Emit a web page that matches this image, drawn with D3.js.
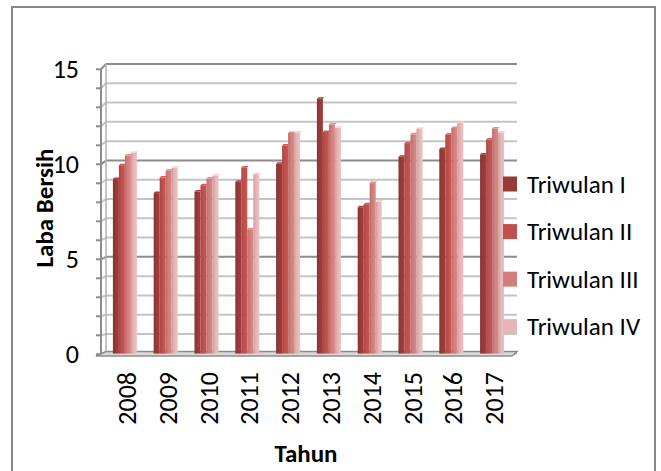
<!DOCTYPE html>
<html>
<head>
<meta charset="utf-8">
<script src="https://cdn.jsdelivr.net/npm/d3@7"></script>
<style>
  html, body { margin: 0; padding: 0; background: #ffffff; }
  svg { display: block; }
  text { font-family: Carlito, Lato, "Open Sans", sans-serif; fill: #000; }
</style>
</head>
<body>
<svg id="chart" width="661" height="471"></svg>
<script>
// Laba bersih per triwulan, 2008–2017
const years = ["2008", "2009", "2010", "2011", "2012", "2013", "2014", "2015", "2016", "2017"];
const seriesNames = ["Triwulan I", "Triwulan II", "Triwulan III", "Triwulan IV"];
const triwulan1 = [9.12, 8.39, 8.47, 8.98, 9.92, 13.32, 7.65, 10.29, 10.69, 10.41];
const triwulan2 = [9.85, 9.20, 8.80, 9.73, 10.88, 11.58, 7.81, 11.00, 11.44, 11.19];
const triwulan3 = [10.36, 9.57, 9.15, 6.50, 11.53, 11.98, 8.91, 11.46, 11.79, 11.77];
const triwulan4 = [10.50, 9.71, 9.31, 9.38, 11.56, 11.80, 7.95, 11.74, 12.05, 11.56];
const yTicks = [0, 5, 10, 15];
const seriesColors = ["#973a38", "#c0504d", "#d17f7d", "#e4b6b5"];

const seriesValues = [triwulan1, triwulan2, triwulan3, triwulan4];

const svg = d3.select("#chart");

// outer frame
svg.append("rect")
  .attr("x", 12).attr("y", 7).attr("width", 643).attr("height", 480)
  .attr("fill", "#fff").attr("stroke", "#878787").attr("stroke-width", 2);

// 3D box: front edge scale and back wall scale
const frontX = 101, backX = 106, wallRight = 517;
const yFront = d3.scaleLinear().domain([0, 15]).range([354.3, 69.3]);
const yBack = d3.scaleLinear().domain([0, 15]).range([353.3, 64]);
const yBar = d3.scaleLinear().domain([0, 15]).range([353.6, 66.6]);

const x0 = d3.scaleBand().domain(years).range([104.5, 512.5]).padding(0);
const clusterW = 24;
const x1 = d3.scaleBand().domain(seriesNames).range([0, clusterW]).padding(0);

const gridVals = d3.range(0, 16);
const g = svg.append("g");

// back wall gridlines
g.selectAll("line.back")
  .data(gridVals)
  .join("line")
  .attr("class", "back")
  .attr("x1", backX).attr("x2", wallRight)
  .attr("y1", d => yBack(d)).attr("y2", d => yBack(d))
  .attr("stroke", d => d % 5 === 0 ? "#8c8c8c" : "#c4c4c4")
  .attr("stroke-width", 2);

// side wall gridlines
g.selectAll("line.side")
  .data(gridVals)
  .join("line")
  .attr("class", "side")
  .attr("x1", frontX).attr("x2", backX)
  .attr("y1", d => yFront(d)).attr("y2", d => yBack(d))
  .attr("stroke", d => d % 5 === 0 ? "#8c8c8c" : "#c4c4c4")
  .attr("stroke-width", 2);

// back wall left edge and front axis line
g.append("line")
  .attr("x1", backX).attr("x2", backX)
  .attr("y1", yBack(15)).attr("y2", yBack(0))
  .attr("stroke", "#b0b0b0").attr("stroke-width", 1.5);
g.append("line")
  .attr("x1", frontX).attr("x2", frontX)
  .attr("y1", yFront(15)).attr("y2", yFront(0))
  .attr("stroke", "#8c8c8c").attr("stroke-width", 2);

// axis ticks (one per unit) on the front edge
g.selectAll("line.tick")
  .data(gridVals)
  .join("line")
  .attr("class", "tick")
  .attr("x1", frontX - 5).attr("x2", frontX)
  .attr("y1", d => yFront(d)).attr("y2", d => yFront(d))
  .attr("stroke", "#8c8c8c").attr("stroke-width", 2);

// y tick labels
g.selectAll("text.ylab")
  .data(yTicks)
  .join("text")
  .attr("class", "ylab")
  .attr("x", 79).attr("y", d => yFront(d))
  .attr("text-anchor", "end")
  .attr("dominant-baseline", "central")
  .style("font-size", "26px")
  .text(d => d);

// bar gradients
const defs = svg.append("defs");
seriesColors.forEach((c, i) => {
  const grad = defs.append("linearGradient")
    .attr("id", "bar" + i).attr("x1", "0").attr("x2", "1").attr("y1", "0").attr("y2", "0");
  grad.append("stop").attr("offset", "0%").attr("stop-color", d3.color(c).darker(0.35));
  grad.append("stop").attr("offset", "45%").attr("stop-color", c);
  grad.append("stop").attr("offset", "100%").attr("stop-color", d3.color(c).brighter(0.15));
});

// floor
g.append("polygon")
  .attr("points", [[frontX - 5, 356], [wallRight - 5, 356], [wallRight, 351.5], [backX, 351.5]].join(" "))
  .attr("fill", "#d9d9d9").attr("stroke", "#8c8c8c").attr("stroke-width", 1.5);

// bars
const bars = g.append("g");
years.forEach((yr, j) => {
  seriesNames.forEach((s, i) => {
    const v = seriesValues[i][j];
    const bx = x0(yr) + (x0.bandwidth() - clusterW) / 2 + x1(s);
    const bw = x1.bandwidth();
    const top = yBar(v);
    bars.append("rect")
      .attr("x", bx).attr("y", top)
      .attr("width", bw).attr("height", yBar(0) - top)
      .attr("fill", `url(#bar${i})`);
    // top face
    bars.append("polygon")
      .attr("points", [[bx, top], [bx + bw, top], [bx + bw + 1.5, top - 1.5], [bx + 1.5, top - 1.5]].join(" "))
      .attr("fill", d3.color(seriesColors[i]).brighter(0.3));
  });
});

// year labels
g.selectAll("text.xlab")
  .data(years)
  .join("text")
  .attr("class", "xlab")
  .attr("transform", d => `translate(${x0(d) + x0.bandwidth() / 2 + 2},372) rotate(-90)`)
  .attr("text-anchor", "end")
  .attr("dominant-baseline", "central")
  .style("font-size", "26px")
  .text(d => d);

// axis titles
svg.append("text")
  .attr("transform", "translate(44,208) rotate(-90)")
  .attr("text-anchor", "middle")
  .attr("dominant-baseline", "central")
  .style("font-size", "25px").style("font-weight", "bold")
  .text("Laba Bersih");
svg.append("text")
  .attr("x", 306).attr("y", 453)
  .attr("text-anchor", "middle")
  .attr("dominant-baseline", "central")
  .style("font-size", "25px").style("font-weight", "bold")
  .text("Tahun");

// legend
const legend = svg.append("g");
const legendY = d3.scalePoint().domain(seriesNames).range([184, 326.7]);
legend.selectAll("rect")
  .data(seriesNames)
  .join("rect")
  .attr("x", 503).attr("y", d => legendY(d) - 7.5)
  .attr("width", 14).attr("height", 15)
  .attr("fill", (d, i) => seriesColors[i]);
legend.selectAll("text")
  .data(seriesNames)
  .join("text")
  .attr("x", 527).attr("y", d => legendY(d))
  .attr("dominant-baseline", "central")
  .style("font-size", "25px")
  .text(d => d);
</script>
</body>
</html>
